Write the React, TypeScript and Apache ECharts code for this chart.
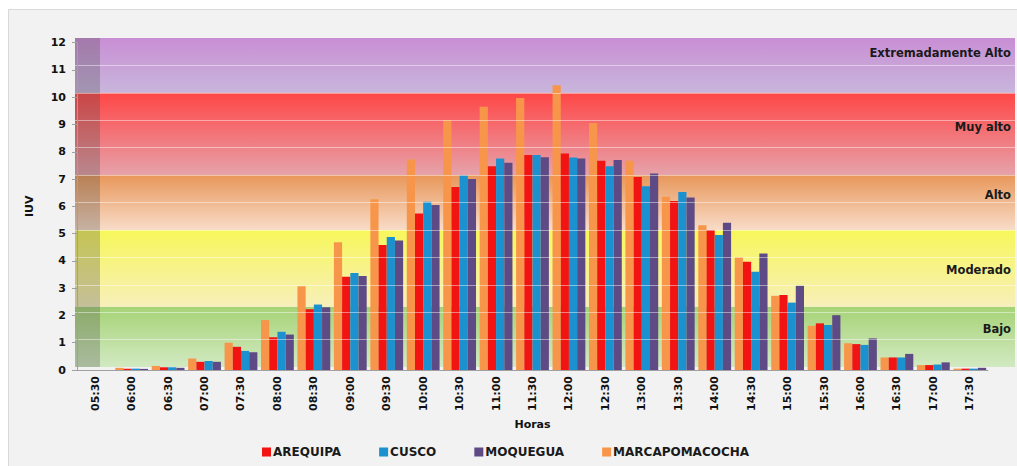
import React, { useEffect, useRef } from "react";
import * as echarts from "echarts";

const times = ["05:30","06:00","06:30","07:00","07:30","08:00","08:30","09:00","09:30","10:00","10:30","11:00","11:30","12:00","12:30","13:00","13:30","14:00","14:30","15:00","15:30","16:00","16:30","17:00","17:30"];

const arequipa = [0, 0.05, 0.1, 0.3, 0.85, 1.2, 2.23, 3.42, 4.58, 5.74, 6.71, 7.47, 7.88, 7.94, 7.67, 7.08, 6.2, 5.13, 3.97, 2.75, 1.71, 0.95, 0.46, 0.18, 0.05];
const cusco = [0, 0.05, 0.1, 0.33, 0.7, 1.4, 2.4, 3.56, 4.88, 6.17, 7.14, 7.75, 7.88, 7.79, 7.47, 6.74, 6.53, 4.95, 3.6, 2.47, 1.65, 0.92, 0.46, 0.2, 0.05];
const moquegua = [0, 0.04, 0.08, 0.3, 0.65, 1.3, 2.3, 3.45, 4.75, 6.05, 7.0, 7.6, 7.8, 7.75, 7.7, 7.2, 6.32, 5.4, 4.27, 3.09, 2.01, 1.16, 0.59, 0.28, 0.08];
const marcapomacocha = [0, 0.08, 0.15, 0.42, 1.0, 1.83, 3.07, 4.68, 6.26, 7.72, 9.16, 9.65, 9.97, 10.44, 9.06, 7.67, 6.35, 5.31, 4.13, 2.72, 1.62, 0.98, 0.46, 0.18, 0.05];

const legendNames = ["AREQUIPA", "CUSCO", "MOQUEGUA", "MARCAPOMACOCHA"];

// UV risk bands
const bandNames = ["Bajo", "Moderado", "Alto", "Muy alto", "Extremadamente Alto"];
const bandLow = [0, 2.2, 5, 7, 10];
const bandHigh = [2.2, 5, 7, 10, 12];
const bandTop = ["#a6d376", "#f7f75a", "#e8975a", "#ff4646", "#c98ed4"];
const bandBottom = ["#d2e9c2", "#f7efba", "#f8dcc8", "#e6a2aa", "#c8b6dc"];
const bandLabelOffset = [-8, 2, -8, -7, -12];
const gridValues = [1, 2, 3, 4, 5, 6, 7, 8, 9, 10, 11];

export default function App() {
  const ref = useRef<HTMLDivElement>(null);
  useEffect(() => {
    if (!ref.current) return;
    const chart = echarts.init(ref.current, undefined, { renderer: "svg" });
    const font = "DejaVu Sans";
    const mk = (name: string, data: number[], color: string) => ({
      name,
      type: "bar",
      xAxisIndex: 1,
      yAxisIndex: 1,
      data,
      barGap: "0%",
      barCategoryGap: "10%",
      itemStyle: { color },
      z: 3,
    });
    chart.setOption({
      animation: false,
      textStyle: { fontFamily: font },
      grid: [
        { left: 75, right: 2, top: 38, bottom: 99 },
        { left: 77, right: 29, top: 42.7, bottom: 96 },
      ],
      xAxis: [
        { gridIndex: 0, type: "value", min: 0, max: 1, show: false },
        {
          gridIndex: 1,
          type: "category",
          data: times,
          z: 10,
          name: "Horas",
          nameLocation: "middle",
          nameGap: 47,
          nameTextStyle: { fontWeight: "bold", fontSize: 11, color: "#111", fontFamily: font },
          axisLine: { lineStyle: { color: "#a0a0a0" } },
          axisTick: { lineStyle: { color: "#a0a0a0" }, length: 4 },
          axisLabel: { rotate: 90, interval: 0, margin: 6, fontWeight: "bold", fontSize: 11, color: "#111", fontFamily: font },
        },
      ],
      yAxis: [
        {
          gridIndex: 0, type: "value", min: 0, max: 12, interval: 1,
          axisLine: { show: false }, axisTick: { show: false }, axisLabel: { show: false }, splitLine: { show: false },
        },
        {
          gridIndex: 1, type: "value", min: 0, max: 12, interval: 1, z: 10,
          name: "IUV",
          nameLocation: "middle",
          nameGap: 42,
          nameTextStyle: { fontWeight: "bold", fontSize: 11, color: "#111", fontFamily: font },
          axisLine: { show: true, lineStyle: { color: "#a0a0a0" } },
          axisTick: { show: true, length: 5, lineStyle: { color: "#a0a0a0" } },
          axisLabel: { margin: 11, fontWeight: "bold", fontSize: 11, color: "#111", fontFamily: font },
          splitLine: { show: false },
        },
      ],
      legend: {
        data: legendNames,
        left: 257,
        top: 441,
        itemWidth: 9,
        itemHeight: 9,
        itemGap: 38,
        icon: "rect",
        textStyle: { fontWeight: "bold", fontSize: 12, color: "#1a1a1a", fontFamily: font, padding: [0, 0, 0, -3] },
      },
      graphic: [
        { type: "rect", shape: { x: 75, y: 38, width: 25, height: 329 }, style: { fill: "rgba(70,70,70,0.28)" }, z: 5, silent: true },
      ],
      series: [
        {
          type: "line",
          xAxisIndex: 0,
          yAxisIndex: 0,
          data: [[0, 0], [1, 0]],
          showSymbol: false,
          lineStyle: { opacity: 0 },
          silent: true,
          z: 1,
          markArea: {
            silent: true,
            data: bandNames.map((n, i) => [
              {
                name: n,
                yAxis: bandLow[i],
                itemStyle: {
                  color: new echarts.graphic.LinearGradient(0, 0, 0, 1, [
                    { offset: 0, color: bandTop[i] },
                    { offset: 1, color: bandBottom[i] },
                  ]),
                },
                label: {
                  show: true,
                  position: "insideRight",
                  distance: 4,
                  offset: [0, bandLabelOffset[i]],
                  fontWeight: "bold",
                  fontSize: 11.5,
                  color: "#1a1a1a",
                  fontFamily: font,
                },
              },
              { yAxis: bandHigh[i] },
            ]),
          },
          markLine: {
            silent: true,
            symbol: "none",
            label: { show: false },
            lineStyle: { color: "rgba(255,255,255,0.45)", width: 1.2, type: "solid" },
            data: gridValues.map((v) => ({ yAxis: v })),
          },
        },
        mk(legendNames[3], marcapomacocha, "#f7964a"),
        mk(legendNames[0], arequipa, "#f21313"),
        mk(legendNames[1], cusco, "#1c91cf"),
        mk(legendNames[2], moquegua, "#5e4a84"),
      ],
    });
    return () => chart.dispose();
  }, []);
  return (
    <div style={{ position: "fixed", left: 0, top: 0, width: 1017, height: 466, background: "#ffffff" }}>
      <div style={{ position: "absolute", left: 8, top: 9, width: 1009, height: 457, background: "#f2f2f2", borderLeft: "1px solid #d9d9d9", borderTop: "1px solid #d9d9d9", boxSizing: "border-box" }} />
      <div ref={ref} style={{ position: "absolute", left: 0, top: 0, width: 1017, height: 466 }} />
    </div>
  );
}
